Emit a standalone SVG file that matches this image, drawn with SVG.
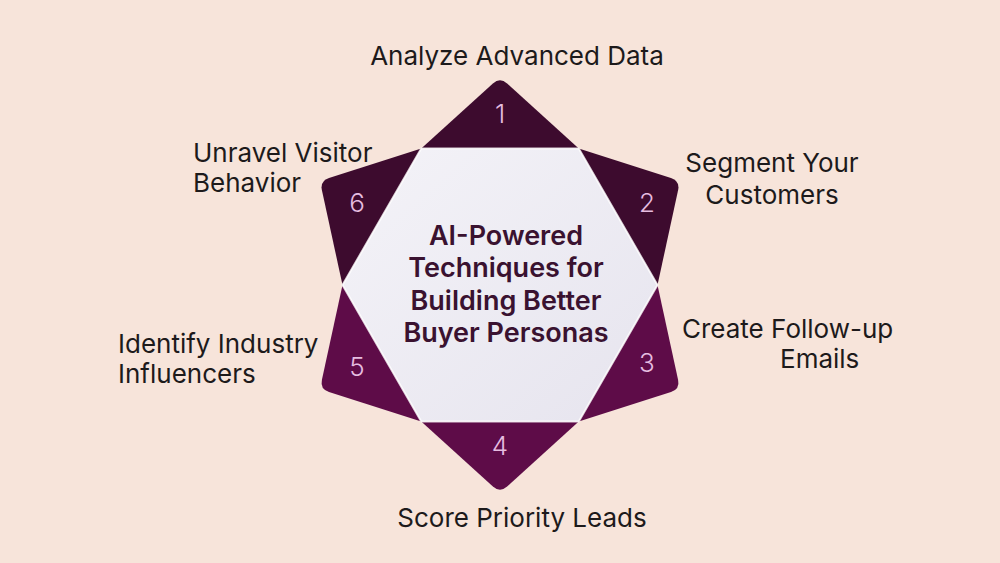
<svg xmlns="http://www.w3.org/2000/svg" width="1000" height="563" viewBox="0 0 1000 563">
  <defs>
    <linearGradient id="hexFill" x1="0" y1="0" x2="1" y2="1">
      <stop offset="0" stop-color="#f4f3f8"/>
      <stop offset="1" stop-color="#e6e4ee"/>
    </linearGradient>
  </defs>
  <style>
    .dark { fill: #3d0b2e; }
    .plum { fill: #5e0c48; }
    .num { font-family: Inter, "Liberation Sans", sans-serif; font-weight: 300; font-size: 26px; fill: #e6bde0; text-anchor: middle; }
    .lbl { font-family: Inter, "Liberation Sans", sans-serif; font-weight: 400; font-size: 26px; fill: #1d1a1b; }
    .title { font-family: Inter, "Liberation Sans", sans-serif; font-weight: 600; font-size: 27px; fill: #3a1230; text-anchor: middle; }
  </style>
  <rect width="1000" height="563" fill="#f7e4da"/>

  <g id="connectors"></g>

  <g id="point-1">
    <path class="dark" d="M421.25,148.6 L492.91,83.44 Q500,77 507.09,83.44 L578.75,148.6 Z"/>
    <text class="num" x="500" y="123">1</text>
  </g>
  <g id="point-2">
    <path class="dark" d="M578.75,148.6 L670.98,178.08 Q680.1,181 678.07,190.36 L657.5,285 Z"/>
    <text class="num" x="647" y="212">2</text>
  </g>
  <g id="point-3">
    <path class="plum" d="M657.5,285 L678.07,379.64 Q680.1,389 670.98,391.92 L578.75,421.4 Z"/>
    <text class="num" x="647" y="372">3</text>
  </g>
  <g id="point-4">
    <path class="plum" d="M578.75,421.4 L507.09,486.56 Q500,493 492.91,486.56 L421.25,421.4 Z"/>
    <text class="num" x="500" y="455">4</text>
  </g>
  <g id="point-5">
    <path class="plum" d="M421.25,421.4 L329.02,391.92 Q319.9,389 321.93,379.64 L342.5,285 Z"/>
    <text class="num" x="357" y="376">5</text>
  </g>
  <g id="point-6">
    <path class="dark" d="M342.5,285 L321.93,190.36 Q319.9,181 329.02,178.08 L421.25,148.6 Z"/>
    <text class="num" x="357" y="212">6</text>
  </g>

  <g id="center">
    <polygon points="657.5,285 578.75,148.6 421.25,148.6 342.5,285 421.25,421.4 578.75,421.4" fill="url(#hexFill)" stroke="#ffffff" stroke-width="2" stroke-opacity="0.8"/>
    <text class="title" x="506" y="245">AI-Powered</text>
    <text class="title" x="506" y="277">Techniques for</text>
    <text class="title" x="506" y="310">Building Better</text>
    <text class="title" x="506" y="342">Buyer Personas</text>
  </g>

  <g id="label-1"><text class="lbl" x="517" y="65" text-anchor="middle">Analyze Advanced Data</text></g>
  <g id="label-2">
    <text class="lbl" x="772" y="172" text-anchor="middle">Segment Your</text>
    <text class="lbl" x="772" y="204" text-anchor="middle">Customers</text>
  </g>
  <g id="label-3">
    <text class="lbl" x="682" y="338">Create Follow-up</text>
    <text class="lbl" x="780" y="368">Emails</text>
  </g>
  <g id="label-4"><text class="lbl" x="522" y="527" text-anchor="middle">Score Priority Leads</text></g>
  <g id="label-5">
    <text class="lbl" x="118" y="353">Identify Industry</text>
    <text class="lbl" x="118" y="383">Influencers</text>
  </g>
  <g id="label-6">
    <text class="lbl" x="193" y="162">Unravel Visitor</text>
    <text class="lbl" x="193" y="192">Behavior</text>
  </g>
</svg>
